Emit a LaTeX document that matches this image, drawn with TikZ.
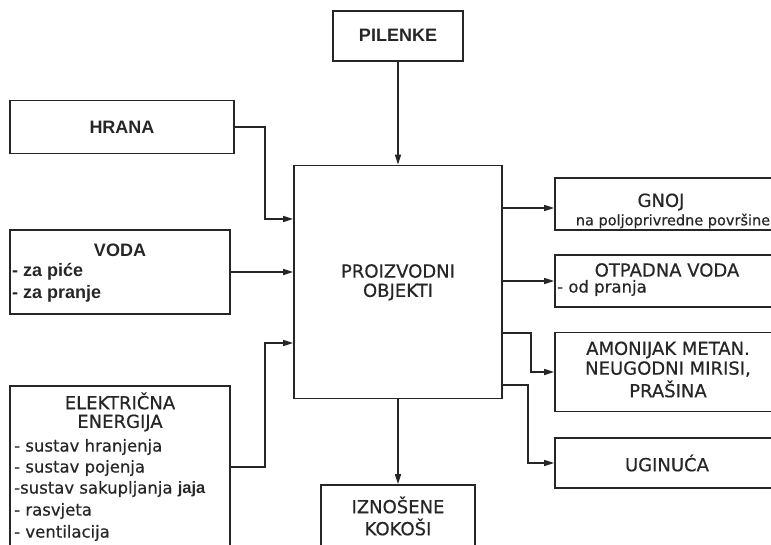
\documentclass[tikz,border=0pt]{standalone}
\usepackage{fontspec}
\setmainfont{DejaVu Sans}[FakeBold=0.5]
\newfontfamily\heavyfont{Liberation Sans}
\usetikzlibrary{arrows.meta}
\begin{document}
\begin{tikzpicture}
[x=1pt,y=-1pt,
  boxdecorate/.style={shape=rectangle,draw=black!85,line width=1.8pt,inner sep=0pt},%
  titledecorate/.style={inner sep=0pt,text=black!85,font=\fontsize{18}{21}\selectfont},%
  heavydecorate/.style={inner sep=0pt,text=black!85,font=\heavyfont\bfseries\fontsize{18}{21}\selectfont},%
  itemdecorate/.style={inner sep=0pt,anchor=west,text=black!85,font=\fontsize{16.5}{20}\selectfont},%
  linedecorate/.style={-{Triangle[length=10pt,width=6pt]},draw=black!85,line width=1.4pt}]
\useasboundingbox (0,0) rectangle (771,544);
\clip (0,0) rectangle (771,544);
%% boxes
\foreach \nodename/\x/\y/\boxw/\boxh in {pilenke/398/36/130/50, hrana/122/127/224/53,
  voda/120/272/220/84, elek/120/475/220/178, main/398/282/208/233,
  gnoj/667/204/224/52, otpadna/667/281/224/52, amonijak/667/372/224/79,
  uginuca/667/463/224/50, iznosene/398/532/154/94} {
  \node (\nodename) at (\x,\y) [boxdecorate,minimum width=\boxw pt,minimum height=\boxh pt] {};
}
%% texts
\foreach \nodename/\x/\y/\txt in {tpilenke/398/35/PILENKE, thrana/122/127/HRANA,
  tvoda/120/250/VODA} {
  \node (\nodename) at (\x,\y) [heavydecorate] {\txt};
}
\foreach \nodename/\x/\y/\txt in {telektricna/120/401/ELEKTRIČNA, tenergija/120/423/ENERGIJA,
  tproizvodni/398/271/PROIZVODNI, tobjekti/398/292/OBJEKTI, tgnoj/661/202/GNOJ,
  totpadna/667/270/OTPADNA VODA, tamonijak/668/350/AMONIJAK METAN.,
  tmirisi/668/369/{NEUGODNI MIRISI,}, tprasina/668/389/PRAŠINA,
  tuginuca/667/463/UGINUĆA, tiznosene/398/505/IZNOŠENE, tkokosi/398/527/KOKOŠI} {
  \node (\nodename) at (\x,\y) [titledecorate] {\txt};
}
\node (tpovrsine) at (673,221) [titledecorate,font=\fontsize{14.5}{17}\selectfont] {na poljoprivredne površine};
\node (tpice) at (12,272) [heavydecorate,anchor=west] {- za piće};
\node (tpranje) at (12,294) [heavydecorate,anchor=west] {- za pranje};
\foreach \nodename/\y/\txt in {thranjenja/447/- sustav hranjenja, tpojenja/468/- sustav pojenja,
  tsakupljanja/489/-sustav sakupljanja {\heavyfont\bfseries jaja},
  trasvjeta/511/- rasvjeta, tventilacija/533/- ventilacija} {
  \node (\nodename) at (14,\y) [itemdecorate] {\txt};
}
\node (tpranja) at (557,288) [itemdecorate] {- od pranja};
%% connectors
\coordinate (inhrana) at (main.west |- 0,219);
\coordinate (inelek) at (main.west |- 0,343);
\coordinate (outelek) at (elek.east |- 0,467);
\coordinate (outgnoj) at (main.east |- 0,208);
\coordinate (outamonijak) at (main.east |- 0,333);
\coordinate (outuginuca) at (main.east |- 0,385);
\draw[linedecorate] (pilenke.south) -- (main.north);
\draw[linedecorate] (hrana.east) -- ++(30,0) |- (inhrana);
\draw[linedecorate] (voda.east) -- (voda.east -| main.west);
\draw[linedecorate] (outelek) -- ++(34,0) |- (inelek);
\draw[linedecorate] (outgnoj) -- (outgnoj -| gnoj.west);
\draw[linedecorate] (otpadna.west -| main.east) -- (otpadna.west);
\draw[linedecorate] (outamonijak) -- ++(28,0) |- (amonijak.west);
\draw[linedecorate] (outuginuca) -- ++(25,0) |- (uginuca.west);
\draw[linedecorate] (main.south) -- (main.south |- iznosene.north);
\end{tikzpicture}
\end{document}
